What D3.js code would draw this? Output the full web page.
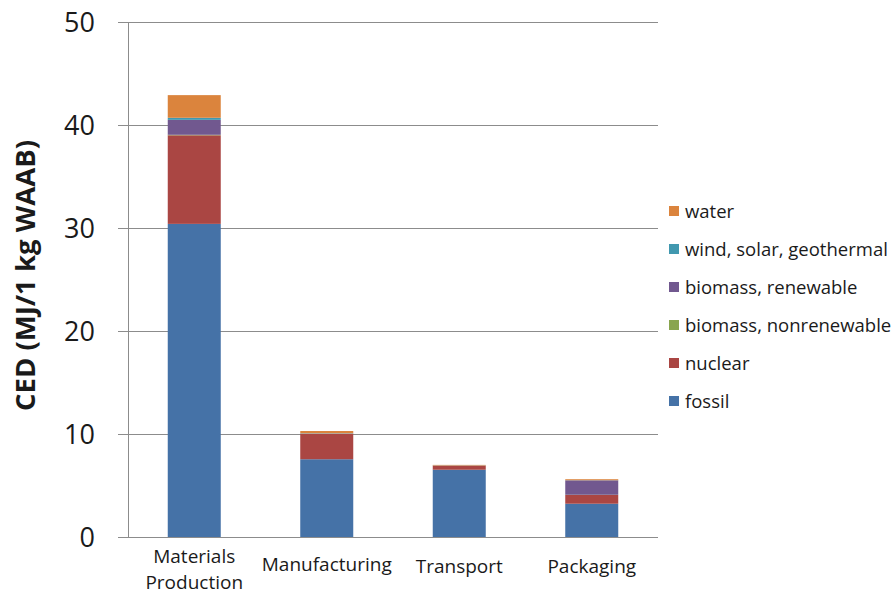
<!DOCTYPE html>
<html>
<head>
<meta charset="utf-8">
<script src="https://cdn.jsdelivr.net/npm/d3@7"></script>
<style>
  body { margin: 0; background: #fff; }
  text { font-family: "Open Sans", "Liberation Sans", sans-serif; fill: #1a1a1a; }
</style>
</head>
<body>
<div id="chart"></div>
<script>
// categories and series (stack order bottom -> top)
let categories = ["Materials Production", "Manufacturing", "Transport", "Packaging"];
let seriesNames = ["fossil", "nuclear", "biomass, nonrenewable", "biomass, renewable", "wind, solar, geothermal", "water"];
let seriesColors = ["#4572A7", "#AA4643", "#89A54E", "#71588F", "#4198AF", "#DB843D"];

let fossil     = [30.4, 7.55, 6.53, 3.23];
let nuclear    = [8.6, 2.45, 0.39, 0.85];
let biomassNon = [0.05, 0.02, 0.01, 0.02];
let biomassRen = [1.45, 0.03, 0.01, 1.4];
let windSolar  = [0.2, 0.02, 0.01, 0.01];
let water      = [2.2, 0.22, 0.05, 0.1];

let yTicks = [0, 10, 20, 30, 40, 50];

// build table for d3.stack
let seriesValues = [fossil, nuclear, biomassNon, biomassRen, windSolar, water];
let table = categories.map((c, i) => {
    let row = {category: c};
    seriesNames.forEach((s, j) => { row[s] = seriesValues[j][i]; });
    return row;
});

let margin = {top: 22, right: 237, bottom: 57, left: 128};
let width = 895 - margin.left - margin.right;
let height = 594 - margin.top - margin.bottom;

let svg = d3.select("#chart").append("svg")
    .attr("width", 895)
    .attr("height", 594)
    .append("g")
    .attr("transform", "translate(" + margin.left + "," + margin.top + ")");

let x = d3.scaleBand()
    .domain(categories)
    .range([0, width])
    .paddingInner(0.6)
    .paddingOuter(0.3);

let y = d3.scaleLinear()
    .domain([0, 50])
    .range([height, 0]);

// gridlines
svg.append("g")
    .selectAll("line")
    .data(yTicks)
    .enter().append("line")
    .attr("x1", -10)
    .attr("x2", width)
    .attr("y1", d => y(d) + 0.5)
    .attr("y2", d => y(d) + 0.5)
    .attr("stroke", "#8c8c8c")
    .attr("stroke-width", 1);

// y axis line
svg.append("line")
    .attr("x1", 0.5).attr("x2", 0.5)
    .attr("y1", 0).attr("y2", height)
    .attr("stroke", "#8c8c8c");

// y tick labels
svg.append("g")
    .selectAll("text")
    .data(yTicks)
    .enter().append("text")
    .attr("x", -33)
    .attr("y", d => y(d))
    .attr("dy", "0.36em")
    .attr("text-anchor", "end")
    .style("font-size", "27px")
    .text(d => d);

// y axis title
svg.append("text")
    .attr("transform", "translate(-93," + (height / 2 - 4) + ") rotate(-90)")
    .attr("text-anchor", "middle")
    .style("font-size", "27.5px")
    .style("font-weight", "bold")
    .text("CED (MJ/1 kg WAAB)");

// stacked bars
let stacked = d3.stack().keys(seriesNames)(table);

svg.append("g")
    .selectAll("g")
    .data(stacked)
    .enter().append("g")
    .attr("fill", (d, i) => seriesColors[i])
    .selectAll("rect")
    .data(d => d)
    .enter().append("rect")
    .attr("x", d => x(d.data.category))
    .attr("width", x.bandwidth())
    .attr("y", d => y(d[1]))
    .attr("height", d => y(d[0]) - y(d[1]));

// category labels
let catLabels = svg.append("g")
    .selectAll("text")
    .data(categories)
    .enter().append("text")
    .attr("x", d => x(d) + x.bandwidth() / 2)
    .attr("y", d => d === "Materials Production" ? height + 26 : (d === "Manufacturing" ? height + 34 : height + 36))
    .attr("text-anchor", "middle")
    .style("font-size", "19px");

catLabels.each(function(d) {
    let t = d3.select(this);
    if (d === "Materials Production") {
        t.append("tspan").attr("x", x(d) + x.bandwidth() / 2).text("Materials");
        t.append("tspan").attr("x", x(d) + x.bandwidth() / 2).attr("dy", 26).text("Production");
    } else {
        t.text(d);
    }
});

// legend (top item = water)
let legend = svg.append("g")
    .attr("transform", "translate(" + (width + 11) + ",0)");

let legendItems = seriesNames.slice().reverse();
let legendColors = seriesColors.slice().reverse();

legendItems.forEach((name, i) => {
    let ly = 189 + i * 38;
    legend.append("rect")
        .attr("x", 0)
        .attr("y", ly - 5)
        .attr("width", 10)
        .attr("height", 10)
        .attr("fill", legendColors[i]);
    legend.append("text")
        .attr("x", 16)
        .attr("y", ly)
        .attr("dy", "0.36em")
        .style("font-size", "18.5px")
        .text(name);
});
</script>
</body>
</html>
